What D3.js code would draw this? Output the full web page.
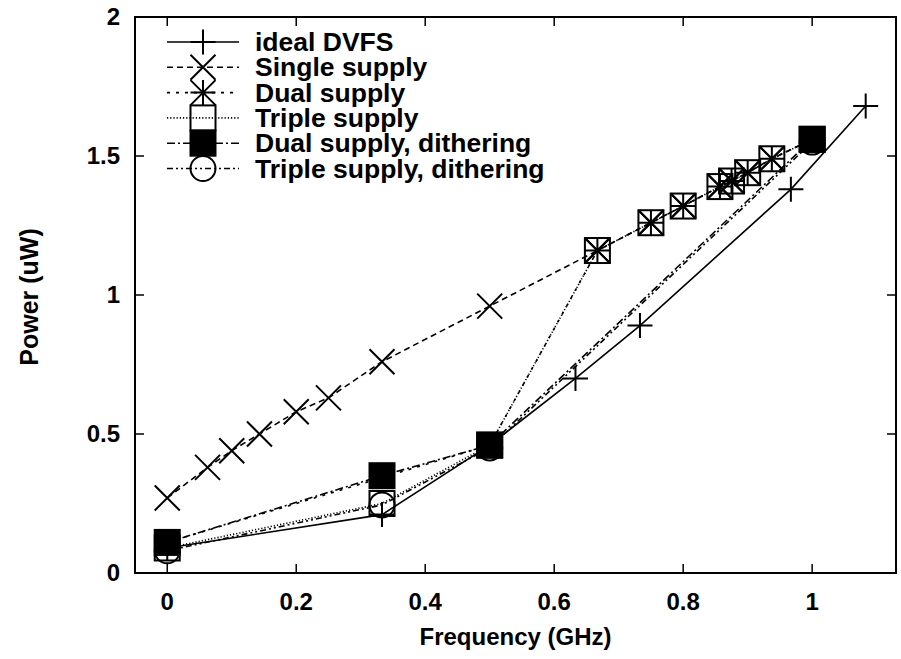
<!DOCTYPE html>
<html>
<head>
<meta charset="utf-8">
<script src="https://cdn.jsdelivr.net/npm/d3@7"></script>
<style>
  body { margin: 0; background: #fff; }
  text { font-family: "Liberation Sans", Arial, Helvetica, sans-serif; font-weight: bold; }
</style>
</head>
<body>
<div id="chart"></div>
<script>
// Frequency (GHz) / power (uW) for each supply scheme
const freqIdeal = [0, 0.333, 0.5, 0.633, 0.733, 0.967, 1.083];
const powerIdeal = [0.09, 0.21, 0.46, 0.70, 0.89, 1.38, 1.68];

const freqSingle = [0, 0.0625, 0.1, 0.143, 0.2, 0.25, 0.333, 0.5, 0.667, 0.75, 0.8, 0.857, 0.875, 0.9, 0.9375, 1];
const powerSingle = [0.27, 0.38, 0.44, 0.50, 0.58, 0.63, 0.76, 0.96, 1.16, 1.26, 1.32, 1.39, 1.41, 1.44, 1.49, 1.56];

const freqDual = [0, 0.5, 0.667, 0.75, 0.8, 0.857, 0.875, 0.9, 0.9375, 1];
const powerDual = [0.11, 0.46, 1.16, 1.26, 1.32, 1.39, 1.41, 1.44, 1.49, 1.56];

const freqTriple = [0, 0.333, 0.5, 0.667, 0.75, 0.8, 0.857, 0.875, 0.9, 0.9375, 1];
const powerTriple = [0.09, 0.25, 0.46, 1.16, 1.26, 1.32, 1.39, 1.41, 1.44, 1.49, 1.56];

const freqDualDither = [0, 0.333, 0.5, 1];
const powerDualDither = [0.11, 0.35, 0.46, 1.56];

const freqTripleDither = [0, 0.333, 0.5, 1];
const powerTripleDither = [0.08, 0.245, 0.45, 1.55];

const xTicks = [0, 0.2, 0.4, 0.6, 0.8, 1];
const yTicks = [0, 0.5, 1, 1.5, 2];

const seriesNames = ["ideal DVFS", "Single supply", "Dual supply", "Triple supply",
    "Dual supply, dithering", "Triple supply, dithering"];

const series = [
    { name: seriesNames[0], f: freqIdeal, p: powerIdeal, dash: null, marker: "plus" },
    { name: seriesNames[1], f: freqSingle, p: powerSingle, dash: "6,4", marker: "cross" },
    { name: seriesNames[2], f: freqDual, p: powerDual, dash: "3,6", marker: "star" },
    { name: seriesNames[3], f: freqTriple, p: powerTriple, dash: "1.2,2", marker: "box" },
    { name: seriesNames[4], f: freqDualDither, p: powerDualDither, dash: "8,3,2,3", marker: "boxFilled" },
    { name: seriesNames[5], f: freqTripleDither, p: powerTripleDither, dash: "6,3,2,3,2,3", marker: "circle" }
];

const W = 901, H = 659;
const frame = { left: 135, right: 896, top: 17, bottom: 573 };

const svg = d3.select("#chart").append("svg")
    .attr("width", W)
    .attr("height", H);

const x = d3.scaleLinear().domain([-0.05, 1.13]).range([frame.left, frame.right]);
const y = d3.scaleLinear().domain([0, 2]).range([frame.bottom, frame.top]);

// ticks point inward on all four sides
const tickLen = 9;
const axisG = svg.append("g").attr("stroke", "#000").attr("stroke-width", 1.5);

xTicks.forEach(t => {
    axisG.append("line").attr("x1", x(t)).attr("x2", x(t))
        .attr("y1", frame.bottom).attr("y2", frame.bottom - tickLen);
    axisG.append("line").attr("x1", x(t)).attr("x2", x(t))
        .attr("y1", frame.top).attr("y2", frame.top + tickLen);
});
yTicks.forEach(t => {
    axisG.append("line").attr("x1", frame.left).attr("x2", frame.left + tickLen)
        .attr("y1", y(t)).attr("y2", y(t));
    axisG.append("line").attr("x1", frame.right).attr("x2", frame.right - tickLen)
        .attr("y1", y(t)).attr("y2", y(t));
});

svg.append("rect")
    .attr("x", frame.left).attr("y", frame.top)
    .attr("width", frame.right - frame.left)
    .attr("height", frame.bottom - frame.top)
    .attr("fill", "none").attr("stroke", "#000").attr("stroke-width", 2);

svg.selectAll(".xlab").data(xTicks).join("text")
    .attr("class", "xlab")
    .attr("x", d => x(d)).attr("y", 610)
    .attr("text-anchor", "middle")
    .style("font-size", "24px")
    .text(d => d3.format("~g")(d));

svg.selectAll(".ylab").data(yTicks).join("text")
    .attr("class", "ylab")
    .attr("x", 120).attr("y", d => y(d) + 8)
    .attr("text-anchor", "end")
    .style("font-size", "24px")
    .text(d => d3.format("~g")(d));

svg.append("text")
    .attr("x", (frame.left + frame.right) / 2).attr("y", 645)
    .attr("text-anchor", "middle")
    .style("font-size", "24px")
    .text("Frequency (GHz)");

svg.append("text")
    .attr("transform", `translate(38,${(frame.top + frame.bottom) / 2 + 2}) rotate(-90)`)
    .attr("text-anchor", "middle")
    .style("font-size", "25px")
    .text("Power (uW)");

// point symbols, gnuplot style
const half = 12.5;
function drawMarker(g, type, cx, cy) {
    const s = g.append("g").attr("transform", `translate(${cx},${cy})`)
        .attr("stroke", "#000").attr("stroke-width", 2).attr("fill", "none");
    if (type === "plus" || type === "star") {
        s.append("path").attr("d", `M${-half},0H${half}M0,${-half}V${half}`);
    }
    if (type === "cross" || type === "star") {
        s.append("path").attr("d", `M${-half},${-half}L${half},${half}M${-half},${half}L${half},${-half}`);
    }
    if (type === "box") {
        s.append("rect").attr("x", -half).attr("y", -half).attr("width", 2 * half).attr("height", 2 * half);
    }
    if (type === "boxFilled") {
        s.append("rect").attr("x", -half).attr("y", -half).attr("width", 2 * half).attr("height", 2 * half)
            .attr("fill", "#000");
    }
    if (type === "circle") {
        s.append("circle").attr("r", half);
    }
}

const line = d3.line().x(d => x(d[0])).y(d => y(d[1]));
const plotG = svg.append("g");

series.forEach(s => {
    const pts = s.f.map((f, i) => [f, s.p[i]]);
    plotG.append("path")
        .datum(pts)
        .attr("d", line)
        .attr("fill", "none")
        .attr("stroke", "#000")
        .attr("stroke-width", 1.6)
        .attr("stroke-dasharray", s.dash);
    pts.forEach(p => drawMarker(plotG, s.marker, x(p[0]), y(p[1])));
});

// key in the upper left corner
const key = svg.append("g");
const keyY0 = 42, keyStep = 25.3;
series.forEach((s, i) => {
    const ky = keyY0 + i * keyStep;
    key.append("line")
        .attr("x1", 167).attr("x2", 239).attr("y1", ky).attr("y2", ky)
        .attr("stroke", "#000").attr("stroke-width", 1.6)
        .attr("stroke-dasharray", s.dash);
    drawMarker(key, s.marker, 203, ky);
    key.append("text")
        .attr("x", 255).attr("y", ky + 9)
        .style("font-size", "26.5px")
        .text(s.name);
});
</script>
</body>
</html>
